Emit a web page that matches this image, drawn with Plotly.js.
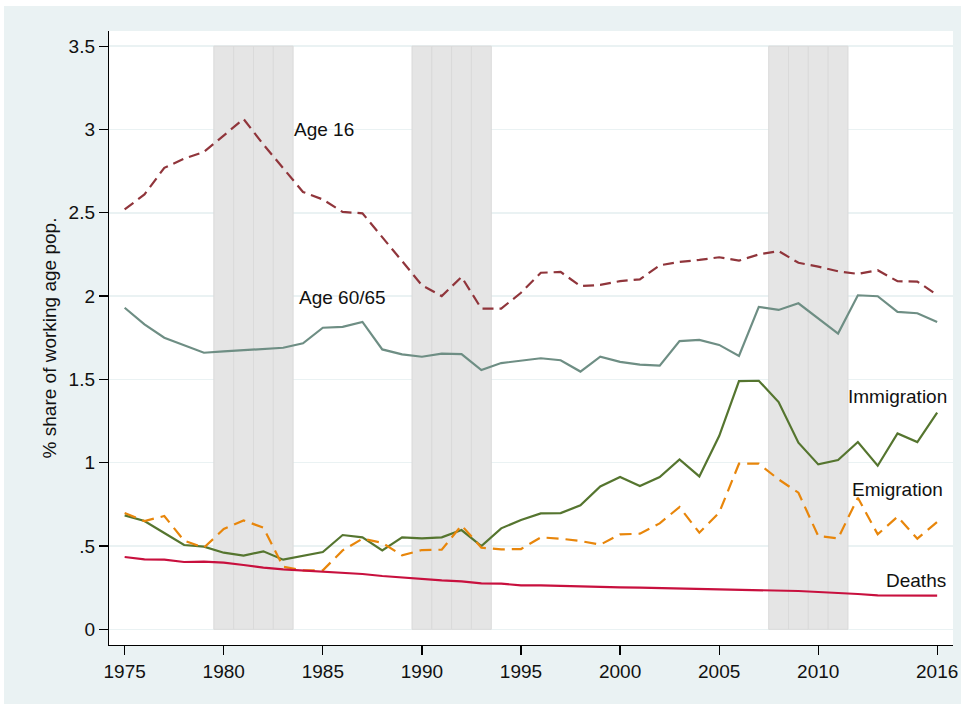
<!DOCTYPE html>
<html>
<head>
<meta charset="utf-8">
<script src="https://cdn.plot.ly/plotly-3.0.1.min.js"></script>
<style>
  html, body { margin: 0; padding: 0; background: #ffffff; width: 964px; height: 704px; overflow: hidden; }
  #chart { position: absolute; left: 4px; top: 6px; width: 957px; height: 698px; }
</style>
</head>
<body>
<div id="chart"></div>
<script>
const years = [1975,1976,1977,1978,1979,1980,1981,1982,1983,1984,1985,1986,1987,1988,1989,1990,1991,1992,1993,1994,1995,1996,1997,1998,1999,2000,2001,2002,2003,2004,2005,2006,2007,2008,2009,2010,2011,2012,2013,2014,2015,2016];

const age16 = [2.52,2.61,2.77,2.825,2.865,2.965,3.063,2.91,2.765,2.625,2.58,2.505,2.497,2.35,2.21,2.065,2.0,2.115,1.925,1.925,2.02,2.14,2.145,2.06,2.067,2.09,2.10,2.185,2.205,2.217,2.233,2.213,2.25,2.27,2.20,2.177,2.149,2.133,2.155,2.089,2.087,2.007];

const age6065 = [1.93,1.83,1.75,1.705,1.66,1.668,1.675,1.683,1.69,1.717,1.81,1.815,1.845,1.68,1.65,1.636,1.655,1.652,1.556,1.598,1.613,1.627,1.615,1.547,1.637,1.605,1.589,1.583,1.73,1.737,1.707,1.641,1.935,1.917,1.957,1.865,1.775,2.005,1.999,1.905,1.897,1.845];

const immigration = [0.684,0.65,0.578,0.506,0.496,0.46,0.442,0.468,0.418,0.44,0.464,0.566,0.552,0.474,0.552,0.546,0.552,0.596,0.50,0.606,0.656,0.696,0.698,0.744,0.858,0.914,0.86,0.914,1.02,0.918,1.16,1.49,1.492,1.364,1.12,0.99,1.016,1.124,0.982,1.176,1.124,1.30];

const emigration = [0.698,0.65,0.68,0.532,0.49,0.602,0.654,0.61,0.376,0.354,0.354,0.474,0.544,0.519,0.444,0.476,0.478,0.624,0.49,0.48,0.482,0.552,0.544,0.53,0.508,0.57,0.574,0.636,0.734,0.58,0.70,0.994,0.994,0.90,0.82,0.56,0.546,0.79,0.57,0.676,0.544,0.644];

const deaths = [0.434,0.42,0.418,0.404,0.406,0.40,0.386,0.37,0.36,0.354,0.346,0.34,0.332,0.32,0.31,0.30,0.294,0.288,0.276,0.274,0.264,0.264,0.26,0.256,0.256,0.252,0.25,0.248,0.246,0.244,0.24,0.236,0.236,0.232,0.23,0.224,0.22,0.212,0.204,0.204,0.20,0.202];

const recessionYears = [1980,1981,1982,1983,1990,1991,1992,1993,2008,2009,2010,2011];
const recessionHeight = recessionYears.map(() => 3.5);

const xTickVals = [1975,1980,1985,1990,1995,2000,2005,2010,2016];
const xTickText = ["1975","1980","1985","1990","1995","2000","2005","2010","2016"];
const yTickVals = [0,0.5,1,1.5,2,2.5,3,3.5];
const yTickText = ["0",".5","1","1.5","2","2.5","3","3.5"];

const labels = [
  {text: "Age 16", x: 1983.45, y: 3.0, xanchor: "left"},
  {text: "Age 60/65", x: 1983.72, y: 1.99, xanchor: "left"},
  {text: "Immigration", x: 2016.58, y: 1.395, xanchor: "right"},
  {text: "Emigration", x: 2016.38, y: 0.84, xanchor: "right"},
  {text: "Deaths", x: 2016.56, y: 0.292, xanchor: "right"}
];

const FONT = "Liberation Sans, Arial, Helvetica, sans-serif";

const traces = [
  {type: "bar", x: recessionYears, y: recessionHeight, width: 1,
   marker: {color: "#e5e5e5", line: {color: "#dadada", width: 1}},
   hoverinfo: "skip", showlegend: false},
  {type: "scatter", mode: "lines", x: years, y: age16, name: "Age 16",
   line: {color: "#90353b", width: 2.2, dash: "11px,6px"}},
  {type: "scatter", mode: "lines", x: years, y: age6065, name: "Age 60/65",
   line: {color: "#6e8e84", width: 2.2}},
  {type: "scatter", mode: "lines", x: years, y: immigration, name: "Immigration",
   line: {color: "#55752f", width: 2.2}},
  {type: "scatter", mode: "lines", x: years, y: emigration, name: "Emigration",
   line: {color: "#e8860b", width: 2.2, dash: "12px,7px"}},
  {type: "scatter", mode: "lines", x: years, y: deaths, name: "Deaths",
   line: {color: "#c8103e", width: 2.2}}
];

const layout = {
  width: 957, height: 698,
  paper_bgcolor: "#eaf2f3",
  plot_bgcolor: "#ffffff",
  showlegend: false,
  margin: {l: 105, r: 8, t: 25, b: 59, pad: 0},
  font: {family: FONT, size: 19, color: "#111111"},
  xaxis: {
    range: [1974.21, 2016.80],
    tickvals: xTickVals, ticktext: xTickText,
    ticks: "outside", ticklen: 9, tickwidth: 1.2, tickcolor: "#000000",
    showline: true, linecolor: "#000000", linewidth: 1.2,
    showgrid: false, zeroline: false,
    tickfont: {family: FONT, size: 19, color: "#111111"}
  },
  yaxis: {
    range: [-0.094, 3.591],
    tickvals: yTickVals, ticktext: yTickText,
    ticks: "outside", ticklen: 9, tickwidth: 1.2, tickcolor: "#000000",
    showline: true, linecolor: "#000000", linewidth: 1.2,
    showgrid: true, gridcolor: "#eaf2f3", gridwidth: 1.5,
    zeroline: false,
    tickfont: {family: FONT, size: 19, color: "#111111"},
    title: {text: "% share of working age pop.", font: {family: FONT, size: 19, color: "#111111"}, standoff: 7}
  },
  bargap: 0,
  annotations: labels.map(l => ({
    text: l.text, x: l.x, y: l.y, xref: "x", yref: "y",
    xanchor: l.xanchor, yanchor: "middle", showarrow: false,
    font: {family: FONT, size: 19, color: "#111111"}
  }))
};

Plotly.newPlot("chart", traces, layout, {displayModeBar: false, staticPlot: true});
</script>
</body>
</html>
